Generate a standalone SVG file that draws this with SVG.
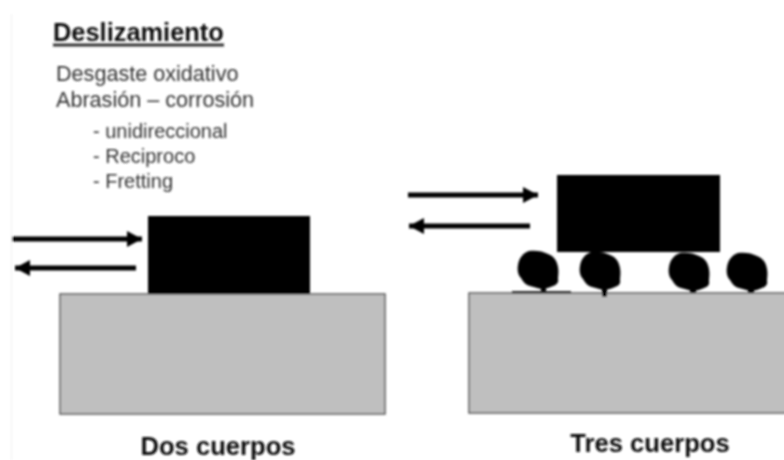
<svg xmlns="http://www.w3.org/2000/svg" width="784" height="460" viewBox="0 0 784 460">
<defs>
<style>
text{font-family:"Liberation Sans",Arial,sans-serif;}
.t{fill:#333;font-size:21.6px}
.s{fill:#333;font-size:20px}
.h{fill:#111;font-size:25.4px;font-weight:bold}
.b{fill:#111;font-size:25.6px;font-weight:bold}
.base{fill:#bfbfbf;stroke:#555;stroke-width:1.5}
.c{stroke:#000;stroke-width:5;fill:none;marker-end:url(#a)}
.soft{filter:url(#blur)}
</style>
<filter id="blur" filterUnits="userSpaceOnUse" x="0" y="0" width="784" height="460"><feGaussianBlur stdDeviation="0.8"/></filter>
<marker id="a" markerUnits="userSpaceOnUse" markerWidth="16" markerHeight="18" refX="15" refY="8.500" orient="auto"><path d="M0 0.500L15 8.500L0 16.500Z" fill="#000"/></marker>
<path id="blob" d="M-9-19C-3-20 5-19 10-16C16-14 19-9 20-3C21 2 20 6 20 9C21 13 18 15 15 16C12 17 8 19 3 19C-1 18-4 17-8 16C-12 15-15 12-17 8C-20 5-21 0-20-5C-19-12-15-17-9-19Z" fill="#000"/>
</defs>
<rect width="784" height="460" fill="#fff"/>
<g class="soft">
<rect x="11" y="14" width="1" height="446" fill="#f2f2f2"/>
<g id="title">
<text class="h" x="53" y="41">Deslizamiento</text>
<rect x="53" y="43.500" width="171" height="3" fill="#333"/>
</g>
<g id="text-list">
<text class="t" x="56" y="81">Desgaste oxidativo</text>
<text class="t" x="56" y="107">Abrasión – corrosión</text>
<text class="s" x="93" y="138">- unidireccional</text>
<text class="s" x="93" y="163">- Reciproco</text>
<text class="s" x="93" y="188">- Fretting</text>
</g>
<g id="dos-cuerpos">
<rect class="base" x="60" y="294" width="325" height="120"/>
<rect x="148" y="216" width="162" height="78" fill="#000"/>
<text class="b" x="218" y="455" text-anchor="middle">Dos cuerpos</text>
</g>
<g id="tres-cuerpos">
<rect class="base" x="469" y="293" width="320" height="120"/>
<rect x="557" y="175" width="163" height="77" fill="#000"/>
<rect x="512" y="291" width="59" height="2.500" fill="#333"/>
<g id="particle-1"><use href="#blob" x="538" y="270"/><rect x="541" y="284" width="5" height="8" fill="#000"/></g>
<g id="particle-2"><use href="#blob" x="600" y="271"/><rect x="591" y="250" width="9" height="6" fill="#000"/><rect x="602" y="286" width="5" height="11" fill="#000"/></g>
<g id="particle-3"><use href="#blob" x="689" y="272"/><rect x="690" y="286" width="6" height="7" fill="#000"/></g>
<g id="particle-4"><use href="#blob" x="747" y="272"/><rect x="748" y="286" width="6" height="7" fill="#000"/></g>
<text class="b" x="650" y="452" text-anchor="middle">Tres cuerpos</text>
</g>
<g id="connectors">
<path class="c" d="M12 239H142"/>
<path class="c" d="M136 268H15"/>
<path class="c" d="M408 195H538"/>
<path class="c" d="M530 226H409"/>
</g>
</g>
</svg>
